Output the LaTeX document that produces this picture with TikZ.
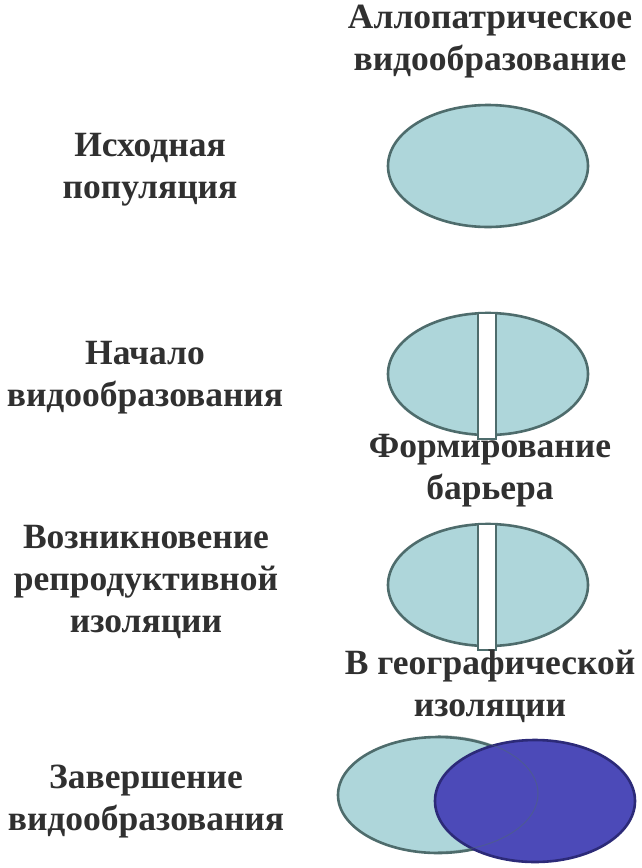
\documentclass[tikz,border=0pt]{standalone}
\usepackage{fontspec}
\setmainfont{Liberation Serif}
\usetikzlibrary{shapes.geometric,positioning}

\definecolor{popfill}{RGB}{174,214,218}
\definecolor{popline}{RGB}{78,108,108}
\definecolor{newfill}{RGB}{76,74,184}
\definecolor{newline}{RGB}{44,42,120}
\definecolor{txt}{RGB}{48,48,48}

\tikzset{
  pop/.style={ellipse,draw=popline,fill=popfill,line width=2.6pt,
    minimum width=200pt,minimum height=122pt,inner sep=0pt},
  newpop/.style={pop,draw=newline,fill=newfill},
  barrier/.style={rectangle,draw=popline,fill=white,line width=1.8pt,
    minimum width=18pt,inner sep=0pt},
  lbl/.style={align=center,text=txt,font=\fontsize{35.5}{42}\selectfont\bfseries}
}

\begin{document}
\begin{tikzpicture}[x=1pt,y=-1pt]
    \useasboundingbox[fill=white] (0,0) rectangle (642,868);

    % populations
    \node[pop] (P1) at (488,166) {};
    \node[pop] (P2) at (488,374) {};
    \node[barrier,minimum height=126pt] (B2) at (487,376) {};
    \node[pop] (P3) at (488,585) {};
    \node[barrier,minimum height=126pt] (B3) at (487,587) {};
    \node[pop,minimum height=116pt] (P4) at (438,795) {};
    \node[newpop] (P5) at (535,801) {};
    \draw[popline,line width=1pt,opacity=0.45] (P4.north) arc[start angle=90,end angle=-90,x radius=100,y radius=-58];

    % labels
    \node[lbl] (T) at (490,42) {Аллопатрическое\\видообразование};
    \node[lbl] (L1) at (150,170) {Исходная\\популяция};
    \node[lbl] (L2) at (145,378) {Начало\\видообразования};
    \node[lbl] (L3) at (146,582) {Возникновение\\репродуктивной\\изоляции};
    \node[lbl] (L4) at (146,802) {Завершение\\видообразования};
    \node[lbl] (R1) at (490,471) {Формирование\\барьера};
    \node[lbl] (R2) at (490,686) {В географической\\изоляции};

  \end{tikzpicture}
\end{document}
